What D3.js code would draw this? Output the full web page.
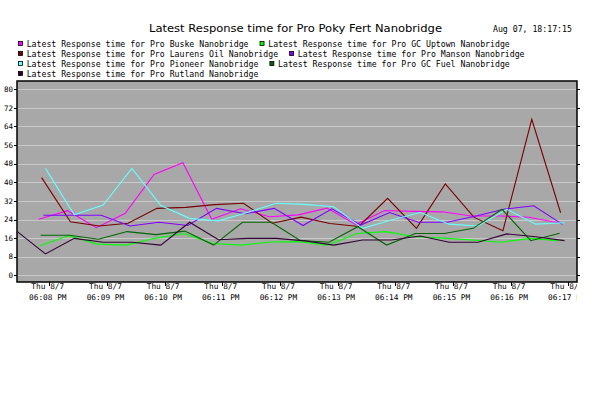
<!DOCTYPE html>
<html>
<head>
<meta charset="utf-8">
<script src="https://cdn.jsdelivr.net/npm/d3@7"></script>
<style>
    body { margin: 0; background: #fff; }
    svg { display: block; }
</style>
</head>
<body>
<div id="chart"></div>
<script>
// series names (legend order) and colours
var seriesNames = [
    "Latest Response time for Pro Buske Nanobridge",
    "Latest Response time for Pro GC Uptown Nanobridge",
    "Latest Response time for Pro Laurens Oil Nanobridge",
    "Latest Response time for Pro Manson Nanobridge",
    "Latest Response time for Pro Pioneer Nanobridge",
    "Latest Response time for Pro GC Fuel Nanobridge",
    "Latest Response time for Pro Rutland Nanobridge"
];
var seriesColors = ["#ff00ff", "#00ff00", "#780000", "#8000ff", "#66ffff", "#006600", "#330033"];

// first sample time of each series, samples every 30 s
var startTimes = ["18:07:49", "18:07:50", "18:07:52", "18:07:54", "18:07:56", "18:07:51", "18:07:26"];
var pollSeconds = 30;

var buske    = [24.1, 27.8, 20.5, 26.7, 43.4, 48.4, 24.1, 28.6, 25.2, 26, 28.9, 21.8, 27.9, 27.5, 27.3, 25.5, 25.5, 25, 22.6];
var gcUptown = [12.7, 17, 13.4, 13, 15.9, 18, 13.7, 13, 14.3, 14.5, 13, 18, 18.8, 16.6, 16, 15.2, 14.2, 15.9, 14.9];
var laurens  = [42, 23, 21.2, 22.4, 28.8, 29.2, 30.4, 31, 22.4, 25, 22.3, 21, 33.1, 20.2, 39.3, 24.9, 19.2, 67.1, 26.9];
var manson   = [25.8, 25.8, 25.8, 21.2, 22.8, 21.4, 28.8, 26.5, 28.8, 21.4, 28.6, 21.6, 27, 22.8, 22.8, 25.5, 28.5, 29.9, 21.9];
var pioneer  = [46, 26, 30.2, 46, 30, 24.5, 23.4, 27, 31, 30.5, 29.5, 20.2, 23.8, 27, 22, 21.2, 28.4, 22, 22.6];
var gcFuel   = [17.2, 17.2, 15.5, 18.8, 17.5, 19, 13, 22.8, 22.8, 15, 14.2, 20.9, 13, 18, 18, 20.2, 28.4, 14.9, 18.1];
var rutland  = [19, 9.2, 15.9, 14.2, 14.2, 13, 22.8, 15.3, 15.9, 15.9, 14.8, 13, 15.2, 15.2, 16.9, 14.2, 14.2, 17.8, 16.6, 14.9];
var seriesValues = [buske, gcUptown, laurens, manson, pioneer, gcFuel, rutland];

var yTicks = [0, 8, 16, 24, 32, 40, 48, 56, 64, 72, 80];
var xTickTimes = ["18:08", "18:09", "18:10", "18:11", "18:12", "18:13", "18:14", "18:15", "18:16", "18:17"];

var chartTitle = "Latest Response time for Pro Poky Fert Nanobridge";
var stampText = "Aug 07, 18:17:15";

var width = 616, height = 393;
// plot frame
var plot = {left: 17, right: 577, top: 81, bottom: 282};

var parseTime = d3.timeParse("%Y-%m-%d %H:%M:%S");
function day(t) { return parseTime("2014-08-07 " + (t.length == 5 ? t + ":00" : t)); }

var svg = d3.select("#chart").append("svg")
    .attr("width", width)
    .attr("height", height);

var xScale = d3.scaleTime()
    .domain([day(xTickTimes[0]), day(xTickTimes[xTickTimes.length - 1])])
    .range([49.3, 568.3]);

var yScale = d3.scaleLinear()
    .domain([0, 80])
    .range([275.3, 89.3]);

// plot background
svg.append("rect")
    .attr("x", plot.left).attr("y", plot.top)
    .attr("width", plot.right - plot.left).attr("height", plot.bottom - plot.top)
    .attr("fill", "#a8a8a8");

svg.append("defs").append("clipPath").attr("id", "plotClip")
    .append("rect")
    .attr("x", plot.left).attr("y", plot.top)
    .attr("width", plot.right - plot.left).attr("height", plot.bottom - plot.top);

svg.append("defs").append("clipPath").attr("id", "labelClip")
    .append("rect")
    .attr("x", 0).attr("y", plot.bottom)
    .attr("width", plot.right).attr("height", 40);

// horizontal grid
svg.append("g").selectAll("line")
    .data(yTicks)
    .enter().append("line")
    .attr("x1", plot.left).attr("x2", plot.right)
    .attr("y1", function (d) { return Math.round(yScale(d)) + 0.5; })
    .attr("y2", function (d) { return Math.round(yScale(d)) + 0.5; })
    .attr("stroke", "#c9c9c9")
    .attr("stroke-width", 1);

// series lines
var line = d3.line()
    .x(function (d) { return xScale(d.t); })
    .y(function (d) { return yScale(d.v); });

var series = seriesValues.map(function (vals, i) {
    var t0 = day(startTimes[i]);
    return vals.map(function (v, k) {
        return {t: d3.timeSecond.offset(t0, k * pollSeconds), v: v};
    });
});

svg.append("g")
    .attr("clip-path", "url(#plotClip)")
    .selectAll("path")
    .data(series)
    .enter().append("path")
    .attr("d", line)
    .attr("fill", "none")
    .attr("stroke", function (d, i) { return seriesColors[i]; })
    .attr("stroke-width", 1.1);

// frame
svg.append("rect")
    .attr("x", plot.left).attr("y", plot.top)
    .attr("width", plot.right - plot.left).attr("height", plot.bottom - plot.top)
    .attr("fill", "none")
    .attr("stroke", "#000")
    .attr("stroke-width", 1.5);

// y axis: labels left, small ticks on both sides
var yAxis = svg.append("g");
yAxis.selectAll("text")
    .data(yTicks)
    .enter().append("text")
    .attr("x", 13)
    .attr("y", function (d) { return yScale(d); })
    .attr("dy", "0.35em")
    .attr("text-anchor", "end")
    .attr("font-family", "DejaVu Sans Mono")
    .attr("font-size", "7.5px")
    .text(function (d) { return d; });

yAxis.selectAll("line.left")
    .data(yTicks)
    .enter().append("line")
    .attr("class", "left")
    .attr("x1", 14).attr("x2", plot.left)
    .attr("y1", function (d) { return Math.round(yScale(d)) + 0.5; })
    .attr("y2", function (d) { return Math.round(yScale(d)) + 0.5; })
    .attr("stroke", "#000");

yAxis.selectAll("line.right")
    .data(yTicks)
    .enter().append("line")
    .attr("class", "right")
    .attr("x1", plot.right).attr("x2", plot.right + 3)
    .attr("y1", function (d) { return Math.round(yScale(d)) + 0.5; })
    .attr("y2", function (d) { return Math.round(yScale(d)) + 0.5; })
    .attr("stroke", "#000");

// x axis: two-line labels
var fmtDay = d3.timeFormat("%a %-m/%-d");
var fmtTime = d3.timeFormat("%I:%M %p");
var xDates = xTickTimes.map(day);

var xAxis = svg.append("g");
xAxis.selectAll("line")
    .data(xDates)
    .enter().append("line")
    .attr("x1", function (d) { return Math.round(xScale(d)) + 0.5; })
    .attr("x2", function (d) { return Math.round(xScale(d)) + 0.5; })
    .attr("y1", plot.bottom).attr("y2", plot.bottom + 4)
    .attr("stroke", "#000");

var xLabels = xAxis.append("g").attr("clip-path", "url(#labelClip)");
xLabels.selectAll("text.day")
    .data(xDates)
    .enter().append("text")
    .attr("class", "day")
    .attr("x", function (d) { return xScale(d) - 1.5; })
    .attr("y", 289)
    .attr("text-anchor", "middle")
    .attr("font-family", "DejaVu Sans Mono")
    .attr("font-size", "7.8px")
    .text(fmtDay);

xLabels.selectAll("text.time")
    .data(xDates)
    .enter().append("text")
    .attr("class", "time")
    .attr("x", function (d) { return xScale(d) - 1.5; })
    .attr("y", 300)
    .attr("text-anchor", "middle")
    .attr("font-family", "DejaVu Sans Mono")
    .attr("font-size", "7.8px")
    .text(fmtTime);

// title and time stamp
svg.append("text")
    .attr("x", 149).attr("y", 32)
    .attr("font-family", "DejaVu Sans")
    .attr("font-size", "10.5px")
    .attr("textLength", 293)
    .attr("lengthAdjust", "spacingAndGlyphs")
    .text(chartTitle);

svg.append("text")
    .attr("x", 493).attr("y", 31.5)
    .attr("font-family", "DejaVu Sans Mono")
    .attr("font-size", "8.2px")
    .text(stampText);

// legend, two items per row, second one follows the first
var legend = svg.append("g");
for (var i = 0; i < seriesNames.length; i++) {
    var row = Math.floor(i / 2);
    var base = 46.5 + row * 10;
    var x = 18;
    if (i % 2 == 1) {
        var prev = legend.select("#leg" + (i - 1)).node();
        x = 26.7 + prev.getComputedTextLength() + 11;
    }
    legend.append("rect")
        .attr("x", x + 0.5).attr("y", base - 5)
        .attr("width", 4).attr("height", 4)
        .attr("fill", seriesColors[i])
        .attr("stroke", "#000")
        .attr("stroke-width", 0.8);
    legend.append("text")
        .attr("id", "leg" + i)
        .attr("x", x + 8.7).attr("y", base)
        .attr("font-family", "DejaVu Sans Mono")
        .attr("font-size", "8.2px")
        .text(seriesNames[i]);
}
</script>
</body>
</html>
